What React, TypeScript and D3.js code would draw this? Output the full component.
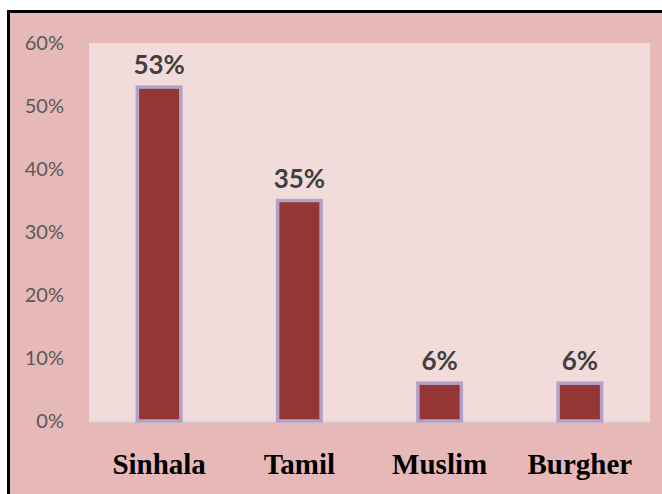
import React from "react";
import * as d3 from "d3";

const categories = ["Sinhala", "Tamil", "Muslim", "Burgher"];
const values = [0.53, 0.35, 0.06, 0.06];
const valueLabels = ["53%", "35%", "6%", "6%"];
const yTicks = [0, 0.1, 0.2, 0.3, 0.4, 0.5, 0.6];

const W = 662;
const H = 494;
const plot = { left: 89, right: 650, top: 43, bottom: 421 };

export default function App() {
  const x = d3.scaleBand<string>().domain(categories).range([plot.left, plot.right]);
  const y = d3.scaleLinear().domain([0, 0.6]).range([plot.bottom, plot.top]);
  const fmt = d3.format(".0%");
  const barW = x.bandwidth() * 0.31;

  return (
    <div style={{ position: "absolute", left: 0, top: 0 }}>
      <svg width={W} height={H} style={{ display: "block" }}>
        <rect x={0} y={0} width={W} height={H} fill="#ffffff" />
        <rect x={8.5} y={11.5} width={W + 20} height={H + 20} fill="#E6B8B7" stroke="#000" strokeWidth={3} />
        <rect x={plot.left} y={plot.top} width={plot.right - plot.left} height={plot.bottom - plot.top} fill="#F2DCDB" />
        {yTicks.map((t) => (
          <text
            key={t}
            x={64}
            y={y(t)}
            dy="0.35em"
            textAnchor="end"
            fontFamily="Lato, 'Open Sans', sans-serif"
            fontSize={20}
            fill="#595959"
          >
            {fmt(t)}
          </text>
        ))}
        <line x1={plot.left} x2={plot.right} y1={plot.bottom + 0.5} y2={plot.bottom + 0.5} stroke="#D9D9D9" strokeWidth={2} />
        {categories.map((c, i) => {
          const cx = (x(c) as number) + x.bandwidth() / 2;
          return (
            <g key={c}>
              <rect
                x={cx - barW / 2}
                y={y(values[i])}
                width={barW}
                height={y(0) - y(values[i])}
                fill="#943634"
                stroke="#B3A2C7"
                strokeWidth={3.5}
              />
              <text
                x={cx}
                y={y(values[i]) - 13}
                textAnchor="middle"
                fontFamily="Lato, 'Open Sans', sans-serif"
                fontWeight={700}
                fontSize={26}
                fill="#404040"
              >
                {valueLabels[i]}
              </text>
              <text
                x={cx}
                y={474}
                textAnchor="middle"
                fontFamily="'Liberation Serif', 'Times New Roman', serif"
                fontWeight={700}
                fontSize={29}
                fill="#000"
              >
                {c}
              </text>
            </g>
          );
        })}
      </svg>
    </div>
  );
}
